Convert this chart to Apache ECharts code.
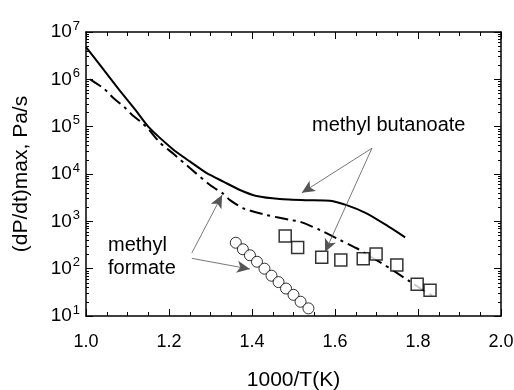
<!DOCTYPE html>
<html>
<head>
<meta charset="utf-8">
<script src="https://cdn.jsdelivr.net/npm/echarts@6/dist/echarts.min.js"></script>
<style>
  html, body { margin: 0; padding: 0; background: #fff; }
  #chart { width: 514px; height: 390px; }
</style>
</head>
<body>
<div id="chart"></div>
<script>
// methyl butanoate, simulation (solid)
const butSimX = [1.0, 1.04, 1.08, 1.12, 1.15, 1.21, 1.251, 1.291, 1.331, 1.371, 1.411, 1.467, 1.532, 1.588, 1.628, 1.676, 1.724, 1.769];
const butSimY = [4.8e6, 1.7e6, 6.0e5, 2.2e5, 1.0e5, 3.3e4, 1.82e4, 1.04e4, 6.9e3, 4.6e3, 3.43e3, 2.96e3, 2.8e3, 2.73e3, 2.2e3, 1.48e3, 830, 460];
// methyl formate simulation (dash-dot)
const formSimX = [1.01, 1.044, 1.064, 1.092, 1.112, 1.133, 1.153, 1.178, 1.21, 1.251, 1.299, 1.331, 1.347, 1.379, 1.435, 1.492, 1.516, 1.564, 1.604, 1.652, 1.692, 1.733, 1.781, 1.825, 1.835];
const formSimY = [1.0e6, 6.3e5, 4.2e5, 2.6e5, 1.74e5, 1.25e5, 8.4e4, 4.6e4, 2.7e4, 1.32e4, 5.85e3, 3.8e3, 2.8e3, 1.88e3, 1.36e3, 1.07e3, 980, 656, 437, 270, 166, 101, 53, 30, 27];
// experiments: squares
const sqX = [1.48, 1.51, 1.568, 1.614, 1.668, 1.699, 1.749, 1.798, 1.829];
const sqY = [490, 280, 174, 152, 162, 204, 119, 47, 35];
// experiments: circles
const ciX = [1.361, 1.378, 1.395, 1.412, 1.43, 1.447, 1.464, 1.482, 1.50, 1.517, 1.536];
const ciY = [353, 257, 192, 140, 100, 71, 52, 38, 28, 20, 14.5];

const pairs = (xs, ys) => xs.map((x, i) => [x, ys[i]]);

const chart = echarts.init(document.getElementById('chart'));
const font = 'Liberation Sans, Arial, sans-serif';
const arrowLine = { color: '#555', width: 0.8, type: 'solid' };

function xAxisOpt(pos, extra) {
  return Object.assign({
    type: 'value', min: 1.0, max: 2.0, interval: 0.2, position: pos,
    axisLine: { show: true, onZero: false, lineStyle: { color: '#000', width: 1.5 } },
    axisTick: { show: true, inside: true, length: 7, lineStyle: { color: '#000', width: 1 } },
    minorTick: { show: true, splitNumber: 4, length: 4, lineStyle: { color: '#000', width: 1 } },
    splitLine: { show: false }
  }, extra);
}
function yAxisOpt(pos, extra) {
  return Object.assign({
    type: 'log', min: 10, max: 1e7, logBase: 10, position: pos,
    axisLine: { show: true, onZero: false, lineStyle: { color: '#000', width: 1.5 } },
    axisTick: { show: true, inside: true, length: 7, lineStyle: { color: '#000', width: 1 } },
    minorTick: { show: true, splitNumber: 9, length: 3, lineStyle: { color: '#000', width: 1 } },
    splitLine: { show: false }
  }, extra);
}

chart.setOption({
  animation: false,
  grid: { left: 86, right: 13, top: 32, bottom: 74, outerBoundsMode: 'none', containLabel: false },
  xAxis: [
    xAxisOpt('bottom', {
      name: '1000/T(K)', nameLocation: 'middle', nameGap: 54,
      nameTextStyle: { color: '#000', fontSize: 21, fontFamily: font },
      axisLabel: { show: true, color: '#000', fontSize: 18, fontFamily: font, margin: 17,
        formatter: v => v.toFixed(1) }
    }),
    xAxisOpt('top', { axisLabel: { show: false } })
  ],
  yAxis: [
    yAxisOpt('left', {
      name: '(dP/dt)max, Pa/s', nameLocation: 'middle', nameGap: 54,
      nameTextStyle: { color: '#000', fontSize: 21, fontFamily: font },
      axisLabel: {
        show: true, color: '#000', margin: 6,
        formatter: v => '{a|10}{b|' + Math.round(Math.log10(v)) + '}',
        rich: {
          a: { fontSize: 19, fontFamily: font, color: '#000' },
          b: { fontSize: 13, fontFamily: font, color: '#000', verticalAlign: 'top', padding: [0, 0, 12, 1] }
        }
      }
    }),
    yAxisOpt('right', { axisLabel: { show: false } })
  ],
  graphic: [
    { type: 'text', left: 312, top: 115, style: { text: 'methyl butanoate', fontSize: 20, fontFamily: font, fill: '#000' } },
    { type: 'text', left: 108, top: 235, style: { text: 'methyl', fontSize: 20, fontFamily: font, fill: '#000' } },
    { type: 'text', left: 108, top: 258, style: { text: 'formate', fontSize: 20, fontFamily: font, fill: '#000' } }
  ],
  series: [
    {
      type: 'line', data: pairs(butSimX, butSimY), smooth: 0.2, symbol: 'none',
      lineStyle: { color: '#000', width: 2 }, z: 3,
      markLine: {
        silent: true, symbol: ['none', 'arrow'], symbolSize: [9, 13],
        label: { show: false }, lineStyle: arrowLine,
        data: [
          [{ coord: [1.689, 3.5e4] }, { coord: [1.52, 4.0e3] }],
          [{ coord: [1.689, 3.5e4] }, { coord: [1.576, 224] }]
        ]
      }
    },
    {
      type: 'line', data: pairs(formSimX, formSimY), smooth: 0.2, symbol: 'none',
      lineStyle: { color: '#000', width: 2, type: [13, 5, 3, 5] }, z: 3,
      markLine: {
        silent: true, symbol: ['none', 'arrow'], symbolSize: [9, 13],
        label: { show: false }, lineStyle: arrowLine,
        data: [
          [{ coord: [1.255, 214] }, { coord: [1.328, 3.6e3] }],
          [{ coord: [1.255, 165] }, { coord: [1.395, 98] }]
        ]
      }
    },
    {
      type: 'scatter', data: pairs(sqX, sqY), symbol: 'rect', symbolSize: 12,
      itemStyle: { color: '#fff', borderColor: '#000', borderWidth: 1.5 }, z: 4
    },
    {
      type: 'scatter', data: pairs(ciX, ciY), symbol: 'circle', symbolSize: 11,
      itemStyle: { color: '#fff', borderColor: '#000', borderWidth: 1 }, z: 4
    }
  ]
});
</script>
</body>
</html>
